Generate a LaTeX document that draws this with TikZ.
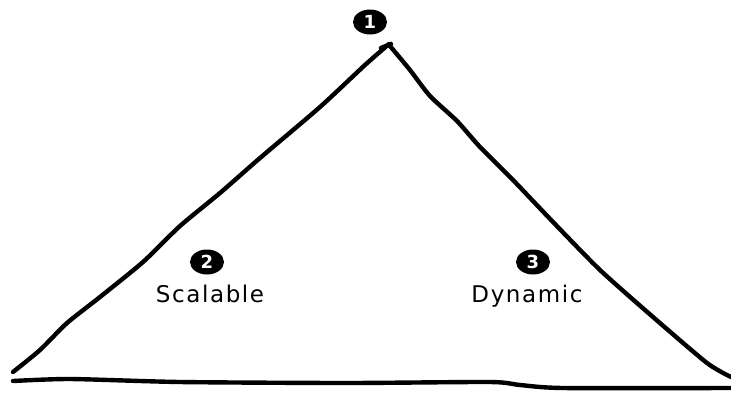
\documentclass[tikz,border=0pt]{standalone}
\usepackage{fontspec}
\setmainfont{DejaVu Sans}
\newfontfamily\handfont[LetterSpace=7]{DejaVu Sans}
\usetikzlibrary{shapes.geometric}

\begin{document}
\begin{tikzpicture}[
  x=1pt, y=-1pt,
  stroke/.style={line width=4.4pt, line cap=round, line join=round, black},
  badge/.style={ellipse, fill=black, inner sep=0pt, minimum width=34pt,
                minimum height=25pt, text=white, font=\bfseries\fontsize{18}{18}\selectfont},
  lbl/.style={anchor=base, inner sep=0pt, font=\handfont\fontsize{23}{26}\selectfont}
]
  \useasboundingbox (0,0) rectangle (731,392);

  % the triangle, drawn by hand
  \draw[stroke] plot[smooth, tension=0.4] coordinates {(389,44) (365,65)
    (320,107) (260,158) (220,193) (180,226) (143,262) (100,297) (67,323)
    (40,350) (13,372)};
  \draw[stroke] (381,48) -- (391,44);
  \draw[stroke] plot[smooth, tension=0.4] coordinates {(390,46) (410,70) (430,96)
    (457,121) (480,147) (513,180) (553,222) (600,270) (653,317)
    (707,363) (731,377)};
  \draw[stroke] plot[smooth, tension=0.4] coordinates {(13,381) (70,379) (180,382)
    (347,383) (490,382) (520,385) (563,388) (731,388)};

  \node[badge] (top)   at (370,22)  {1};
  \node[badge] (left)  at (207,262) {2};
  \node[badge] (right) at (533,262) {3};

  \node[lbl] (scal) at (210,302) {Scalable};
  \node[lbl] (dyn)  at (527,302) {Dynamic};
\end{tikzpicture}
\end{document}
